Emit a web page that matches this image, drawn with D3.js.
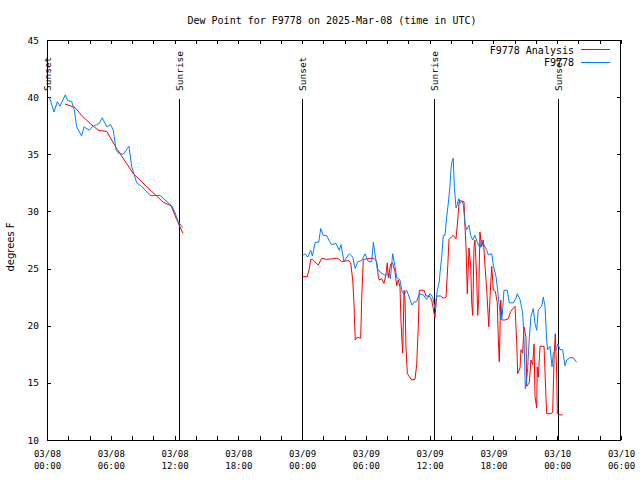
<!DOCTYPE html>
<html>
<head>
<meta charset="utf-8">
<script src="https://cdn.jsdelivr.net/npm/d3@7"></script>
<style>
  html, body { margin: 0; padding: 0; background: #fff; }
  svg { display: block; }
  text { font-family: "DejaVu Sans Mono", monospace; fill: #000; }
</style>
</head>
<body>
<svg id="chart" width="640" height="480"></svg>
<script>
// ---- DATA (hours after 2025-03-08 00:00 UTC, dew point in °F) ----
const title = "Dew Point for F9778 on 2025-Mar-08 (time in UTC)";
const yLabel = "degrees F";
const seriesNames = ["F9778 Analysis", "F9778"];
const seriesColors = ["#ff0000", "#0080ff"];
const yTicks = [10, 15, 20, 25, 30, 35, 40, 45];

const anaHours = [1.69,2.63,3.26,4.05,4.83,5.62,5.93,6.56,8.12,9.69,10.94,11.67,12.20,12.77,
  18.0,
  24.02,24.49,24.65,24.81,25.00,25.52,25.84,26.31,27.25,27.50,27.72,28.35,28.57,28.76,28.88,28.95,29.00,29.19,29.51,29.61,29.76,30.39,30.76,31.02,31.17,31.26,31.49,31.70,31.89,32.01,32.11,32.33,32.52,32.74,32.90,33.05,33.21,33.30,33.46,33.59,33.68,33.77,33.90,34.31,34.62,34.78,34.93,35.02,35.47,35.65,35.97,36.19,36.34,36.50,36.66,37.04,37.28,37.54,37.70,37.82,38.07,38.22,38.48,38.64,38.79,39.01,39.23,39.32,39.42,39.54,39.70,39.86,39.95,40.05,40.17,40.26,40.42,40.52,40.61,40.73,40.89,41.05,41.21,41.37,41.56,41.68,41.84,41.99,42.18,42.36,42.49,42.55,42.68,42.80,43.09,43.40,43.62,44.03,44.19,44.28,44.50,44.59,44.75,44.87,45.06,45.13,45.37,45.53,45.69,45.82,45.91,46.07,46.12,46.22,46.38,46.76,46.94,47.01,47.32,47.57,47.72,47.82,47.95,48.01,48.26,48.51];
const anaDewF = [39.4,39.1,38.4,37.7,37.1,37.0,36.5,35.5,33.3,31.9,30.8,30.5,29.3,28.1,
  null,
  24.3,24.3,24.9,25.8,25.8,25.3,25.9,25.8,25.9,25.8,25.6,25.7,25.5,24.0,22.0,19.9,18.75,19.0,18.9,22.5,25.8,25.9,25.9,25.6,24.3,24.0,24.1,23.7,24.5,25.5,24.2,25.4,25.5,24.7,23.5,24.0,23.4,20.4,17.6,23.1,22.3,18.2,15.8,15.25,15.3,16.6,19.9,23.1,23.1,22.6,22.6,22.25,21.5,20.7,22.6,22.6,22.4,22.5,25.2,27.55,27.8,27.9,27.6,29.25,31.0,30.9,30.85,28.7,26.9,22.8,26.8,25.2,22.1,20.9,26.9,27.5,24.3,20.9,22.4,28.2,26.9,27.5,25.2,23.1,19.9,22.5,25.2,23.1,23.0,22.0,18.0,16.85,22.25,20.5,20.5,20.6,21.25,21.7,18.5,15.8,16.3,17.9,17.6,19.9,19.0,14.7,15.0,17.0,16.6,18.4,13.8,12.8,16.4,15.5,18.2,18.2,13.8,12.3,12.3,12.4,17.6,19.3,15.8,12.3,12.2,12.2];

const obsHours = [0.22,0.66,0.97,1.22,1.72,1.95,2.32,2.57,2.79,3.26,3.48,3.98,4.26,4.68,4.92,5.20,5.62,5.99,6.24,6.49,6.71,7.18,7.71,7.97,8.44,8.91,9.69,10.63,11.73,12.04,12.35,12.77,
  18.0,
  24.02,24.27,24.53,24.81,24.96,25.24,25.56,25.75,26.00,26.31,26.56,26.78,27.19,27.50,27.66,27.94,28.13,28.44,28.76,29.00,29.23,29.61,29.92,30.23,30.55,30.70,30.86,31.07,31.33,31.80,32.20,32.30,32.52,32.74,32.90,33.21,33.40,33.59,33.84,34.15,34.34,34.55,34.78,35.02,35.40,35.72,36.03,36.29,36.50,36.72,36.91,36.97,37.13,37.28,37.44,37.60,37.75,37.91,38.01,38.13,38.22,38.32,38.48,38.60,38.73,38.85,39.01,39.16,39.32,39.48,39.70,39.86,40.05,40.26,40.48,40.73,40.89,41.11,41.37,41.52,41.84,41.99,42.24,42.36,42.52,42.68,42.83,42.99,43.30,43.49,43.87,44.12,44.24,44.50,44.75,44.87,45.00,45.19,45.37,45.53,45.75,45.91,46.07,46.22,46.54,46.69,46.85,47.01,47.10,47.32,47.51,47.63,47.88,48.07,48.26,48.51,48.73,48.89,49.20,49.51,49.83];
const obsDewF = [40.0,38.7,39.6,39.2,40.2,39.7,39.6,38.9,37.4,36.6,37.4,37.1,37.4,37.6,37.7,38.2,37.4,37.6,37.1,35.4,35.1,35.0,35.7,33.9,32.5,32.2,31.4,31.4,30.5,29.9,29.1,28.6,
  null,
  26.1,26.3,26.0,26.6,26.1,27.3,27.3,28.5,27.9,27.9,27.4,27.1,27.2,26.6,27.1,25.6,25.9,26.3,26.0,25.0,25.6,25.7,26.3,25.6,25.6,27.3,26.3,25.0,24.7,24.4,24.6,24.1,26.3,25.2,24.2,24.0,23.0,22.7,23.1,22.3,21.8,22.1,22.1,22.8,22.7,22.3,22.8,22.5,21.5,23.1,23.9,24.6,26.0,27.9,27.9,29.5,30.7,32.2,33.8,34.5,34.65,32.2,30.3,30.6,31.1,30.7,30.9,30.6,29.0,28.4,28.8,27.9,27.5,27.9,27.3,26.8,27.5,27.1,26.6,26.2,26.3,25.3,24.3,23.4,22.0,20.5,20.9,23.1,23.1,22.0,22.0,22.4,22.8,22.3,21.1,19.0,14.5,15.8,18.9,20.8,21.5,20.2,19.6,21.4,21.7,22.5,21.7,18.75,17.9,18.2,16.4,17.6,17.9,18.4,17.9,17.9,16.5,17.0,17.2,17.2,16.8];

const sunEventNames = ["Sunset", "Sunrise", "Sunset", "Sunrise", "Sunset"];
const sunEventHours = [0.0, 12.42, 24.02, 36.41, 48.07];

// ---- CHART ----
const startMs = Date.UTC(2025, 2, 8, 0, 0);
const toDate = h => new Date(startMs + h * 3600e3);

const svg = d3.select("#chart");
const L = 47, R = 621, T = 40, B = 440;

const x = d3.scaleUtc().domain([toDate(0), toDate(54)]).range([L, R]);
const y = d3.scaleLinear().domain([10, 45]).range([B, T]);

// Title
svg.append("text").attr("x", 332).attr("y", 24).attr("text-anchor", "middle")
  .style("font-size", "10px").text(title);

// Y label
svg.append("text").attr("transform", "translate(14,247) rotate(-90)")
  .attr("text-anchor", "middle").style("font-family", "'DejaVu Sans', sans-serif")
  .style("font-size", "10px").text(yLabel);

const fmtDate = d3.utcFormat("%m/%d"), fmtTime = d3.utcFormat("%H:%M");
const every2 = d3.utcHour.every(2);

// Bottom axis
const xb = svg.append("g").attr("transform", `translate(0,${B})`)
  .call(d3.axisBottom(x).ticks(every2).tickSizeInner(-4).tickSizeOuter(0).tickPadding(0)
    .tickFormat(() => ""));
xb.select(".domain").remove();
xb.selectAll(".tick line").attr("stroke", "#000").attr("shape-rendering", "crispEdges");
xb.selectAll(".tick").each(function (d) {
  if (d.getUTCHours() % 6 !== 0) return;
  const t = d3.select(this).select("text").attr("y", 0).attr("dy", null)
    .style("font-size", "9px").style("font-family", "'DejaVu Sans Mono', monospace");
  t.text(null);
  t.append("tspan").attr("x", 0).attr("y", 17).text(fmtDate(d));
  t.append("tspan").attr("x", 0).attr("y", 29).text(fmtTime(d));
});

// Top axis (mirror ticks)
const xt = svg.append("g").attr("transform", `translate(0,${T})`)
  .call(d3.axisTop(x).ticks(every2).tickSizeInner(-4).tickSizeOuter(0).tickFormat(() => ""));
xt.select(".domain").remove();
xt.selectAll(".tick line").attr("stroke", "#000").attr("shape-rendering", "crispEdges");

// Left axis
const yl = svg.append("g").attr("transform", `translate(${L},0)`)
  .call(d3.axisLeft(y).tickValues(yTicks).tickSizeInner(-4).tickSizeOuter(0).tickPadding(8));
yl.select(".domain").remove();
yl.selectAll(".tick line").attr("stroke", "#000").attr("shape-rendering", "crispEdges");
yl.selectAll(".tick text").style("font-size", "9.5px")
  .style("font-family", "'DejaVu Sans Mono', monospace").attr("fill", "#000");

// Right axis (mirror)
const yr = svg.append("g").attr("transform", `translate(${R},0)`)
  .call(d3.axisRight(y).tickValues(yTicks).tickSizeInner(-4).tickSizeOuter(0).tickFormat(() => ""));
yr.select(".domain").remove();
yr.selectAll(".tick line").attr("stroke", "#000").attr("shape-rendering", "crispEdges");

// Sun events
sunEventHours.forEach((h, i) => {
  const xp = Math.round(x(toDate(h))) + 0.5;
  svg.append("line").attr("x1", xp).attr("x2", xp).attr("y1", 99).attr("y2", B)
    .attr("stroke", "#000").attr("stroke-width", 1);
  svg.append("text").attr("transform", `translate(${xp},91) rotate(-90)`)
    .attr("dy", "0.35em").style("font-size", "9.5px").text(sunEventNames[i]);
});

// Series
const line = d3.line()
  .defined(d => d[1] != null)
  .x(d => x(toDate(d[0])))
  .y(d => y(d[1]));

const anaData = anaHours.map((h, i) => [h, anaDewF[i]]);
const obsData = obsHours.map((h, i) => [h, obsDewF[i]]);

svg.append("path").datum(anaData).attr("d", line)
  .attr("fill", "none").attr("stroke", seriesColors[0]).attr("stroke-width", 1);
svg.append("path").datum(obsData).attr("d", line)
  .attr("fill", "none").attr("stroke", seriesColors[1]).attr("stroke-width", 1);

// Frame
svg.append("rect").attr("x", L + 0.5).attr("y", T + 0.5).attr("width", R - L - 1).attr("height", B - T)
  .attr("fill", "none").attr("stroke", "#000").attr("stroke-width", 1);

// Legend
seriesNames.forEach((name, i) => {
  const ly = 50 + i * 12.7;
  svg.append("text").attr("x", 574).attr("y", ly).attr("dy", "0.35em")
    .attr("text-anchor", "end").style("font-size", "10px").text(name);
  svg.append("line").attr("x1", 581).attr("x2", 610).attr("y1", Math.round(ly) - 0.5).attr("y2", Math.round(ly) - 0.5)
    .attr("stroke", seriesColors[i]).attr("stroke-width", 1);
});
</script>
</body>
</html>
